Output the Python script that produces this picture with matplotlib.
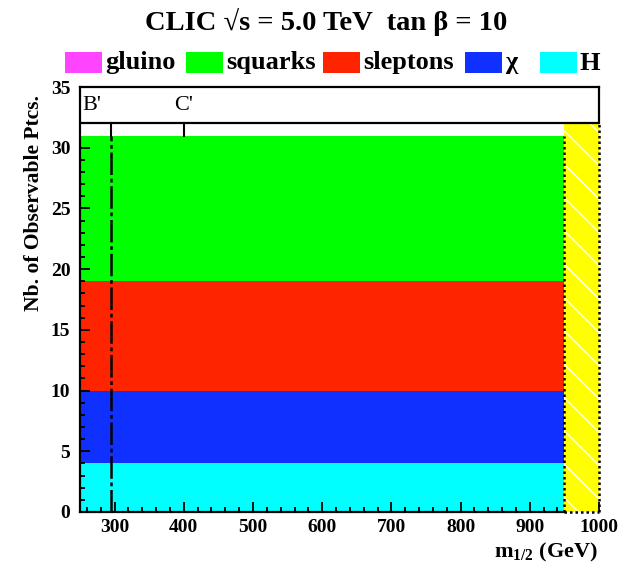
import numpy as np
import matplotlib
matplotlib.use("Agg")
import matplotlib.pyplot as plt
from matplotlib.patches import Rectangle

plt.rcParams["font.family"] = ["Liberation Serif", "DejaVu Serif"]
plt.rcParams["mathtext.fontset"] = "custom"
plt.rcParams["mathtext.rm"] = "Liberation Serif:bold"
plt.rcParams["mathtext.it"] = "Liberation Serif:bold"
plt.rcParams["mathtext.bf"] = "Liberation Serif:bold"
plt.rcParams["hatch.linewidth"] = 1.0

# number of observable particles per class, constant over the scanned m1/2 range
species = ["H", "χ", "sleptons", "squarks", "gluino"]
n_obs = [4, 6, 9, 12, 0]
colors = ["#00ffff", "#1030ff", "#ff2400", "#00ff00", "#ff44ff"]
m12_range = [250, 950]
excluded = [950, 1000]
benchmarks = ["B'", "C'"]
bench_m12 = [295, 400]

legend_order = ["gluino", "squarks", "sleptons", "χ", "H"]

fig = plt.figure(figsize=(6.28, 5.71), dpi=100)
W, H = 628, 571
ax = fig.add_axes([80 / W, 1 - 512 / H, (599 - 80) / W, (512 - 87) / H])

# stacked bands
bottom = 0
for n, c in zip(n_obs, colors):
    ax.bar(m12_range[0], n, width=m12_range[1] - m12_range[0], bottom=bottom,
           align="edge", color=c, linewidth=0, zorder=1)
    bottom += n
top_stack = bottom

# kinematically excluded strip
ax.add_patch(Rectangle((excluded[0], 0), excluded[1] - excluded[0], 32,
                       facecolor="#ffff00", edgecolor="white", hatch="\\",
                       linewidth=0, zorder=1))
dot = dict(color="black", lw=1.8, ls=(0, (1, 1.2)), clip_on=False, zorder=4)
ax.plot([excluded[0], excluded[0]], [0, top_stack], **dot)
ax.plot([excluded[1], excluded[1]], [0, 32], **dot)
ax.plot(excluded, [0, 0], **dot)

# benchmark markers
ax.plot([bench_m12[0]] * 2, [0, top_stack], color="black", lw=1.8,
        ls=(0, (9, 1.5, 1.5, 1.5)), zorder=3)
for xb in bench_m12:
    ax.plot([xb, xb], [top_stack, 32], color="black", lw=1.5, zorder=3)
ax.text(254, 33.5, benchmarks[0], fontsize=16, ha="left", va="center")
ax.text(bench_m12[1], 33.5, benchmarks[1], fontsize=16, ha="center", va="center")

# top box and frame
ax.axhline(32, color="black", lw=1.6, zorder=4)
ax.plot([excluded[1], excluded[1]], [32, 35], color="black", lw=1.6,
        clip_on=False, zorder=4)
ax.spines["right"].set_visible(False)
for s in ["left", "top", "bottom"]:
    ax.spines[s].set_linewidth(1.6)
ax.spines["bottom"].set_bounds(250, 950)

ax.set_xlim(250, 1000)
ax.set_ylim(0, 35)
ax.set_xticks(np.arange(300, 1001, 100))
ax.set_xticks([x for x in range(260, 950, 20) if x % 100], minor=True)
ax.set_yticks(np.arange(0, 36, 5))
ax.set_yticks([y for y in range(1, 31) if y % 5], minor=True)
ax.tick_params(which="both", direction="in", top=False, right=False,
               width=1.3, labelsize=14)
ax.tick_params(which="major", length=7.5)
ax.tick_params(which="minor", length=3.8)
ax.tick_params(axis="y", pad=7)
ax.tick_params(axis="x", pad=5)
for lab in ax.get_xticklabels() + ax.get_yticklabels():
    lab.set_fontweight("bold")

fig.text(34 / W, 1 - 203 / H, "Nb. of Observable Ptcs.", rotation=90,
         ha="center", va="center", fontsize=15.5, fontweight="bold")
fig.text(598 / W, 1 - 552 / H, r"m$_{1/2}$ (GeV)", ha="right", va="center",
         fontsize=16, fontweight="bold")

fig.text(326 / W, 1 - 22 / H, "CLIC √s = 5.0 TeV  tan β = 10",
         ha="center", va="center", fontsize=20.5, fontweight="bold")

# legend row
box_x = [65, 186, 323, 465, 540]
for lbl, xb in zip(legend_order, box_x):
    c = colors[species.index(lbl)]
    fig.patches.append(Rectangle((xb / W, 1 - 73 / H), 37 / W, 21 / H,
                                 facecolor=c, edgecolor="none",
                                 transform=fig.transFigure, figure=fig))
    fig.text((xb + 40) / W, 1 - 63 / H, lbl, ha="left", va="center",
             fontsize=19, fontweight="bold")

fig.savefig("out.png", dpi=100)
